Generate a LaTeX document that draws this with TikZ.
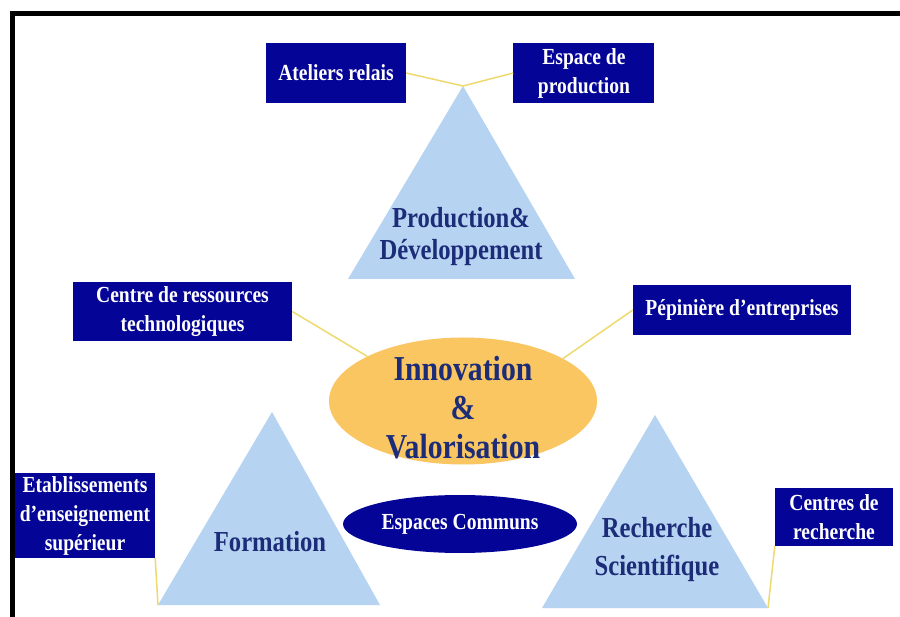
\documentclass[tikz,border=0pt]{standalone}
\usepackage{fontspec}
\setmainfont[FakeStretch=0.85]{Liberation Serif}
\usetikzlibrary{positioning,shapes.geometric}
\definecolor{boxblue}{RGB}{4,4,150}
\definecolor{triblue}{RGB}{182,212,242}
\definecolor{ovalorange}{RGB}{249,198,98}
\definecolor{linkyellow}{RGB}{238,218,110}
\definecolor{titleblue}{RGB}{28,44,120}

\begin{document}
\begin{tikzpicture}[x=1pt, y=-1pt,
  every node/.style={font=\bfseries\fontsize{23}{29}\selectfont},
  site/.style={rectangle, fill=boxblue, text=white, align=center, inner sep=0pt},
  pole/.style={fill=triblue},
  poletext/.style={text=titleblue, align=center},
  link/.style={draw=linkyellow, line width=1.5pt}]
  \useasboundingbox[fill=white] (0,0) rectangle (900,617);
  \draw[line width=4.5pt] (12.5,617) -- (12.5,13.5) -- (900,13.5);
  % poles
  \coordinate (prodtop) at (463,86);
  \coordinate (prodleft) at (348,279);
  \coordinate (prodright) at (575,279);
  \coordinate (formtop) at (272,412);
  \coordinate (formleft) at (158,605);
  \coordinate (formright) at (380,605);
  \coordinate (rechtop) at (655,415);
  \coordinate (rechleft) at (542,608);
  \coordinate (rechright) at (768,608);
  \fill[pole] (prodleft) -- (prodtop) -- (prodright) -- cycle;
  \fill[pole] (formleft) -- (formtop) -- (formright) -- cycle;
  \fill[pole] (rechleft) -- (rechtop) -- (rechright) -- cycle;
  \node[poletext, font=\bfseries\fontsize{29}{32}\selectfont] (prod) at (461,237) {Production\&\\D\'eveloppement};
  \node[poletext, font=\bfseries\fontsize{29}{32}\selectfont] (form) at (270,542) {Formation};
  \node[poletext, font=\bfseries\fontsize{29}{38}\selectfont] (rech) at (657,550) {Recherche\\Scientifique};
  % sites
  \node[site, minimum width=140pt, minimum height=60pt] (ateliers) at (336,73) {Ateliers relais};
  \node[site, minimum width=141pt, minimum height=60pt, right=107pt of ateliers] (espace) {Espace de\\production};
  \node[site, minimum width=219pt, minimum height=59pt] (ressources) at (182.5,311.5) {Centre de ressources\\technologiques};
  \node[site, minimum width=218pt, minimum height=50pt] (pepiniere) at (742,310) {P\'epini\`ere d'entreprises};
  \node[site, minimum width=140pt, minimum height=85pt] (etab) at (85,515.5) {Etablissements\\d'enseignement\\sup\'erieur};
  \node[site, minimum width=118pt, minimum height=58pt] (centres) at (834,517) {Centres de\\recherche};
  % centre
  \node[ellipse, fill=ovalorange, inner sep=0pt,
    minimum width=268pt, minimum height=127pt] (innov) at (463,401) {};
  \node[text=titleblue, align=center, font=\bfseries\fontsize{35}{39}\selectfont] (innovtext) at (463,408) {Innovation\\\&\\Valorisation};
  \node[ellipse, fill=boxblue, text=white, inner sep=0pt,
    minimum width=234pt, minimum height=58pt] (communs) at (460,524) {Espaces Communs};
  % links
  \draw[link] (ateliers.east) -- (prodtop) -- (espace.west);
  \draw[link] (ressources.east) -- (innov.155);
  \draw[link] (pepiniere.west) -- (innov.23);
  \draw[link] (etab.south east) -- (formleft);
  \draw[link] (centres.south west) -- (rechright);
\end{tikzpicture}
\end{document}
